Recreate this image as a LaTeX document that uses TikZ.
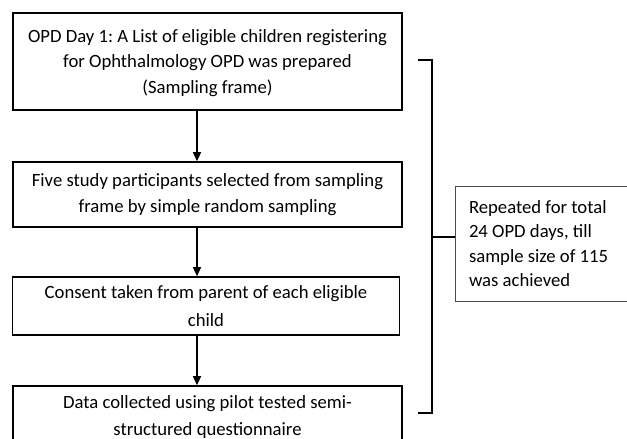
\documentclass[tikz,border=0pt]{standalone}
\usepackage{fontspec}
\setmainfont{Carlito}
\frenchspacing
\usetikzlibrary{arrows.meta}
\begin{document}
\begin{tikzpicture}[x=1pt,y=1pt,
  mainbox/.style={draw=black,line width=1.6pt,minimum width=389pt,inner sep=0pt,align=center,font=\fontsize{18.7}{25.5}\selectfont},
  sidebox/.style={draw=black!70,line width=0.8pt,minimum width=175pt,minimum height=115pt,inner sep=0pt,align=left,font=\fontsize{18.7}{24.5}\selectfont},
  flow/.style={line width=1.4pt,-{Triangle[length=9pt,width=8pt]}},
  brace/.style={line width=1.5pt}]
\useasboundingbox (0,0) rectangle (627,439);
\clip (0,0) rectangle (627,439);
\node[mainbox,minimum height=97pt,text depth=-2pt] (b1) at (207.5,377.5) {OPD Day 1: A List of eligible children registering\\for Ophthalmology OPD was prepared\\(Sampling frame)};
\node[mainbox,minimum height=65pt] (b2) at (207.5,244.5) {Five study participants selected from sampling\\frame by simple random sampling};
\node[mainbox,minimum width=387pt,minimum height=58pt,font=\fontsize{18.7}{28}\selectfont] (b3) at (206,133) {Consent taken from parent of each eligible\\child};
\node[mainbox,minimum height=62pt,font=\fontsize{18.7}{27}\selectfont] (b4) at (207.5,22) {Data collected using pilot tested semi-\\structured questionnaire};
\node[sidebox] (rep) at (542.5,195.5) {\hspace*{13pt}\parbox{160pt}{\raggedright Repeated for total\\24 OPD days, till\\sample size of 115\\was achieved}};
\draw[flow] (b1.south -| 197,0) -- (b2.north -| 197,0);
\draw[flow] (b2.south -| 197,0) -- (b3.north -| 197,0);
\draw[flow] (b3.south -| 197,0) -- (b4.north -| 197,0);
\coordinate (bt) at (418,379);
\coordinate (bb) at (418,26);
\coordinate (bm) at (432,202);
\draw[brace] (bt) -- (432,379) -- (432,26) -- (bb);
\draw[brace] (bm) -- (rep.west |- bm);
\end{tikzpicture}
\end{document}
